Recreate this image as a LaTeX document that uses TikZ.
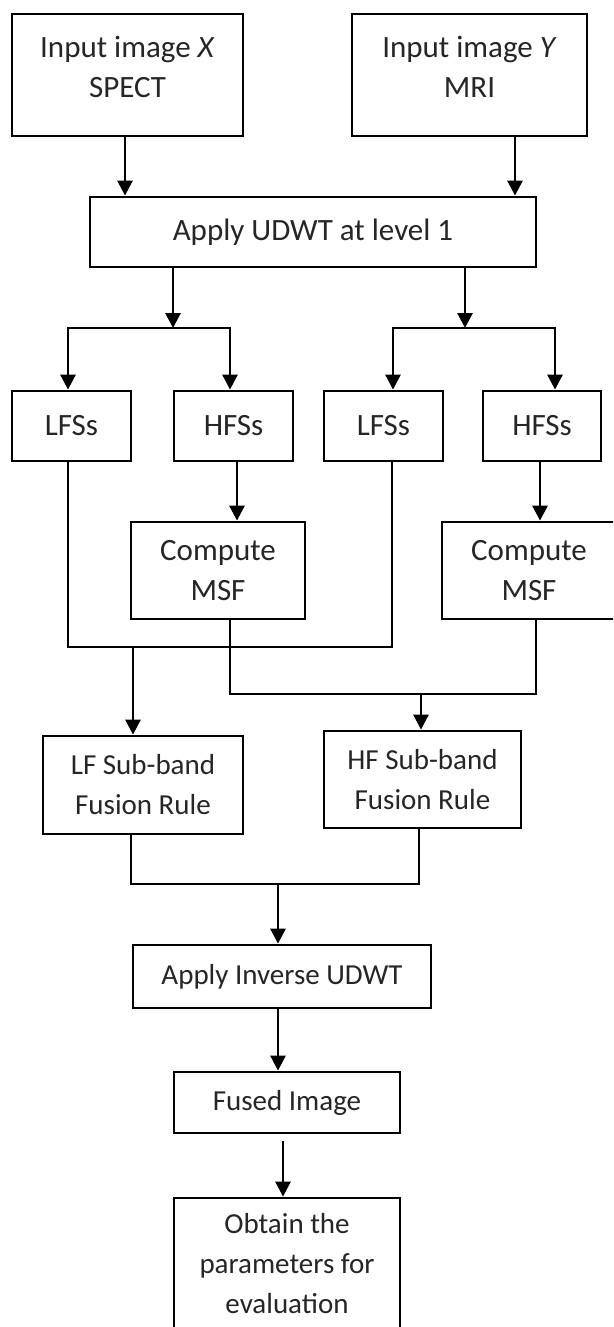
\documentclass[tikz,border=0pt]{standalone}
\usepackage{fontspec}
\setmainfont{Carlito}
\usetikzlibrary{arrows.meta,calc}
\begin{document}
\begin{tikzpicture}[x=1pt,y=-1pt,
  box/.style={draw=black,line width=2.8pt,align=center,inner sep=0pt,text=black!85},
  big/.style={font=\fontsize{31}{40}\selectfont},
  small/.style={font=\fontsize{29}{40}\selectfont},
  ln/.style={line width=2.8pt,draw=black},
  arr/.style={ln,-{Triangle[length=15pt,width=15pt]}}]
\clip (0,0) rectangle (613,1327);
\fill[white] (0,0) rectangle (613,1327);
% boxes
\node[box,big,minimum width=231pt,minimum height=122pt,text depth=16pt] (X) at (127.5,75) {Input image \textit{X}\\SPECT};
\node[box,big,minimum width=235pt,minimum height=122pt,text depth=16pt] (Y) at (469.5,75) {Input image \textit{Y}\\MRI};
\node[box,big,minimum width=446pt,minimum height=70pt] (U) at (313,232) {Apply UDWT at level 1};
\node[box,big,minimum width=119pt,minimum height=70pt] (L1) at (71.5,426) {LFSs};
\node[box,big,minimum width=119pt,minimum height=70pt] (H1) at (233.5,426) {HFSs};
\node[box,big,minimum width=119pt,minimum height=70pt] (L2) at (383.5,426) {LFSs};
\node[box,big,minimum width=118pt,minimum height=70pt] (H2) at (542,426) {HFSs};
\node[box,big,minimum width=174pt,minimum height=97pt] (C1) at (218,570.5) {Compute\\MSF};
\node[box,big,minimum width=174pt,minimum height=97pt] (C2) at (529,570.5) {Compute\\MSF};
\node[box,small,minimum width=200pt,minimum height=98pt] (LF) at (143,785) {LF Sub-band\\Fusion Rule};
\node[box,small,minimum width=197pt,minimum height=97pt] (HF) at (422.5,779.5) {HF Sub-band\\Fusion Rule};
\node[box,small,minimum width=298pt,minimum height=63pt] (Inv) at (282,976.5) {Apply Inverse UDWT};
\node[box,small,minimum width=226pt,minimum height=61pt] (Fu) at (287,1102.5) {Fused Image};
\node[box,small,minimum width=226pt,minimum height=132pt] (Ob) at (287,1264) {Obtain the\\parameters for\\evaluation};
% lanes and junctions
\coordinate (k1) at (125,0);
\coordinate (k2) at (515,0);
\coordinate (j1) at (173,328);
\coordinate (j2) at (465,328);
\coordinate (xa) at (68,0);
\coordinate (xb) at (230,0);
\coordinate (xc) at (393,0);
\coordinate (xd) at (555,0);
\coordinate (h1) at (237,0);
\coordinate (h2) at (540,0);
\coordinate (xl) at (392,0);
\coordinate (xe) at (536,0);
\coordinate (xf) at (131,0);
\coordinate (xg) at (419,0);
\coordinate (m1) at (133,647);
\coordinate (m2) at (421,694);
\coordinate (m3) at (278,884);
\coordinate (xh) at (283,0);
% connectors
\draw[arr] (X.south -| k1) -- (U.north -| k1);
\draw[arr] (Y.south -| k2) -- (U.north -| k2);
\draw[arr] (U.south -| j1) -- (j1);
\draw[arr] (U.south -| j2) -- (j2);
\draw[arr] (j1) -- (j1 -| xa) -- (L1.north -| xa);
\draw[arr] (j1) -- (j1 -| xb) -- (H1.north -| xb);
\draw[arr] (j2) -- (j2 -| xc) -- (L2.north -| xc);
\draw[arr] (j2) -- (j2 -| xd) -- (H2.north -| xd);
\draw[arr] (H1.south -| h1) -- (C1.north -| h1);
\draw[arr] (H2.south -| h2) -- (C2.north -| h2);
\draw[ln] (L1.south -| xa) -- (m1 -| xa) -- (m1 -| xl) -- (L2.south -| xl);
\draw[arr] (m1) -- (LF.north -| m1);
\draw[ln] (C1.south -| xb) -- (m2 -| xb) -- (m2 -| xe) -- (C2.south -| xe);
\draw[arr] (m2) -- (HF.north -| m2);
\draw[ln] (LF.south -| xf) -- (m3 -| xf) -- (m3 -| xg) -- (HF.south -| xg);
\draw[arr] (m3) -- (Inv.north -| m3);
\draw[arr] (Inv.south -| m3) -- (Fu.north -| m3);
\draw[arr] ($(Fu.south -| xh)+(0,7)$) -- (Ob.north -| xh);
\end{tikzpicture}
\end{document}
